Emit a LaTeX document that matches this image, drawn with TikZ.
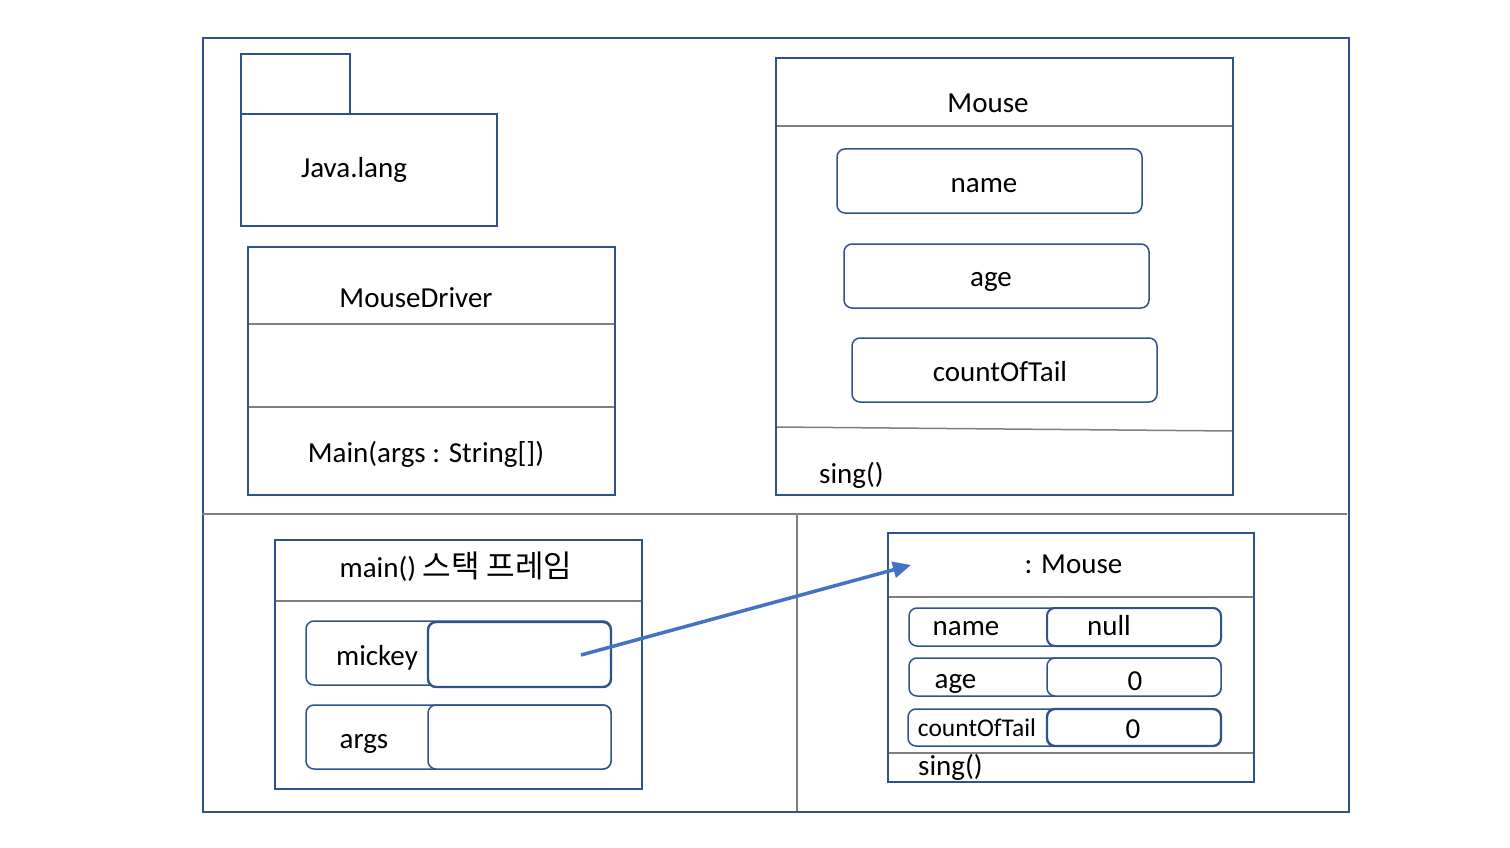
\documentclass[tikz,border=0pt]{standalone}
\usepackage{fontspec}
\setmainfont{Carlito}
\newfontfamily\kofont{Noto Sans CJK KR}
\usetikzlibrary{arrows.meta}
\definecolor{frameblue}{HTML}{2F528F}
\definecolor{arrowblue}{HTML}{4472C4}
\definecolor{divgrey}{HTML}{7F7F7F}
\begin{document}
\begin{tikzpicture}[x=1pt,y=-1pt,
  box/.style={draw=frameblue,line width=1.8pt,inner sep=0pt,outer sep=0pt,fill=white},
  rbox/.style={box,line width=1.5pt,rounded corners=8pt},
  vbox/.style={box,line width=2.4pt,rounded corners=8pt},
  div/.style={draw=divgrey,line width=1.5pt},
  lbl/.style={inner sep=0pt,anchor=base,font=\fontsize{29}{33}\selectfont},
  slbl/.style={lbl,font=\fontsize{25.5}{29}\selectfont},
  ptr/.style={draw=arrowblue,line width=3.5pt,-{Triangle[length=18pt,width=16pt]}}]
\useasboundingbox (0,0) rectangle (1510,848);
\fill[white] (0,0) rectangle (1510,848);
% outer frame
\node[box,fill=none,minimum width=1146pt,minimum height=774pt] (frame) at (776,425) {};
\coordinate (hl) at (202,514);
\coordinate (hr) at (1347,514);
\coordinate (vt) at (797,514);
\coordinate (vb) at (797,811);
\draw[div] (hl) -- (hr);
\draw[div] (vt) -- (vb);
% Java.lang package
\node[box,minimum width=109pt,minimum height=60pt] (jtab) at (295.5,84) {};
\node[box,minimum width=256pt,minimum height=112pt] (jbody) at (369,170) {};
\node[lbl] (jl) at (354,178) {Java.lang};
% MouseDriver class
\node[box,minimum width=367pt,minimum height=248pt] (md) at (431.5,371) {};
\draw[div] (md.west |- 0,324) -- (md.east |- 0,324);
\draw[div] (md.west |- 0,407) -- (md.east |- 0,407);
\draw[frameblue,line width=1.8pt] (md.north west) rectangle (md.south east);
\node[lbl] (mdl) at (416,307) {MouseDriver};
\node[lbl] (mdm) at (426,462) {Main(args : String[])};
% Mouse class
\node[box,minimum width=457pt,minimum height=437pt] (ms) at (1004.5,276.5) {};
\draw[div] (ms.west |- 0,126) -- (ms.east |- 0,126);
\draw[div] (ms.west |- 0,427) -- (ms.east |- 0,431);
\draw[frameblue,line width=1.8pt] (ms.north west) rectangle (ms.south east);
\node[lbl] (msl) at (988,113) {Mouse};
\node[rbox,minimum width=305pt,minimum height=64pt] (fname) at (989.5,181) {};
\node[lbl] at (984,193) {name};
\node[rbox,minimum width=305pt,minimum height=64pt] (fage) at (996.5,276) {};
\node[lbl] at (991,286) {age};
\node[rbox,minimum width=305pt,minimum height=64pt] (fcot) at (1004.5,370) {};
\node[lbl] at (1000,381) {countOfTail};
\node[lbl,anchor=base west] (msing) at (819,483) {sing()};
% main() stack frame
\node[box,minimum width=367pt,minimum height=249pt] (st) at (458.5,664.5) {};
\draw[div] (st.west |- 0,601) -- (st.east |- 0,601);
\draw[frameblue,line width=1.8pt] (st.north west) rectangle (st.south east);
\node[lbl] (stl) at (456,577) {main() {\kofont\fontsize{31}{35}\selectfont 스택 프레임}};
\node[rbox,minimum width=305pt,minimum height=64pt] (mko) at (458.5,653) {};
\node[vbox,minimum width=183pt,minimum height=65pt] (mkv) at (519.5,654.5) {};
\node[lbl] at (377,665) {mickey};
\node[rbox,minimum width=305pt,minimum height=64pt] (ago) at (458.5,737) {};
\node[rbox,minimum width=183pt,minimum height=64pt] (agv) at (519.5,737) {};
\node[lbl] at (364,748) {args};
% : Mouse object
\node[box,minimum width=366pt,minimum height=249pt] (ob) at (1071,657.5) {};
\draw[div] (ob.west |- 0,597) -- (ob.east |- 0,597);
\draw[div] (ob.west |- 0,753) -- (ob.east |- 0,753);
\draw[frameblue,line width=1.8pt] (ob.north west) rectangle (ob.south east);
\node[lbl] (obl) at (1073.5,573) {: Mouse};
\node[rbox,minimum width=312pt,minimum height=38pt] (onO) at (1065,627) {};
\node[vbox,line width=2pt,minimum width=174pt,minimum height=38pt] (onV) at (1134,627) {};
\node[lbl] at (966,635) {name};
\node[lbl] at (1109,635) {null};
\node[rbox,minimum width=312pt,minimum height=38pt] (oaO) at (1065,677) {};
\node[rbox,minimum width=174pt,minimum height=38pt] (oaV) at (1134,677) {};
\node[lbl] at (955.5,688) {age};
\node[lbl] at (1135,690) {0};
\node[rbox,minimum width=313pt,minimum height=37pt] (ocO) at (1064.5,727.5) {};
\node[vbox,minimum width=174pt,minimum height=37pt] (ocV) at (1134,727.5) {};
\node[slbl] at (977,736) {countOfTail};
\node[lbl] at (1133,738) {0};
\node[lbl,anchor=base west] (osing) at (918,775) {sing()};
% reference arrow
\coordinate (pfrom) at (581,655);
\coordinate (pto) at (911,565);
\draw[ptr] (pfrom) -- (pto);
\end{tikzpicture}
\end{document}
